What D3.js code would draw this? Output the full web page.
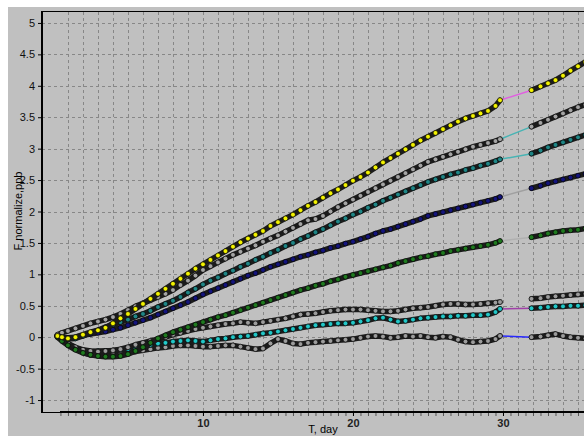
<!DOCTYPE html>
<html>
<head>
<meta charset="utf-8">
<script src="https://cdn.jsdelivr.net/npm/d3@7"></script>
<style>
body { margin: 0; background: #fff; }
svg { display: block; font-family: "Liberation Sans", Arial, sans-serif; }
</style>
</head>
<body>
<div class="chart"></div>
<script>
// === Data ===
const yTicks = [-1, -0.5, 0, 0.5, 1, 1.5, 2, 2.5, 3, 3.5, 4, 4.5, 5];
const xTicks = [10, 20, 30];

// days before the gap / after the gap
const daysA = [0.3,0.6,1,1.5,2,2.5,3,3.5,4,4.5,
  5,5.5,6,6.5,7,7.5,8,8.5,9,9.5,
  10,10.5,11,11.5,12,12.5,13,13.5,14,14.5,
  15,15.5,16,16.5,17,17.5,18,18.5,19,19.5,
  20,20.5,21,21.5,22,22.5,23,23.5,24,24.5,
  25,25.5,26,26.5,27,27.5,28,28.5,29,29.5,29.8];
const daysB = [31.9,32.5,33,33.5,34,34.5,35,35.5];

const yellowA = [0.02,0.00,-0.02,0.00,0.04,0.08,0.11,0.15,0.22,0.30,
  0.37,0.45,0.53,0.61,0.69,0.77,0.85,0.93,1.01,1.09,
  1.16,1.23,1.30,1.37,1.44,1.51,1.57,1.63,1.69,1.77,
  1.83,1.89,1.95,2.02,2.09,2.15,2.22,2.29,2.35,2.42,
  2.49,2.55,2.62,2.70,2.78,2.85,2.92,2.99,3.06,3.13,
  3.19,3.25,3.31,3.37,3.43,3.48,3.52,3.56,3.60,3.68,3.77];
const yellowB = [3.93,3.99,4.04,4.09,4.16,4.24,4.31,4.38];

const gray1A = [0.04,0.07,0.10,0.14,0.18,0.22,0.25,0.28,0.32,0.37,
  0.43,0.49,0.54,0.59,0.64,0.69,0.75,0.83,0.90,0.98,
  1.07,1.13,1.19,1.25,1.31,1.36,1.41,1.46,1.52,1.57,
  1.62,1.68,1.74,1.80,1.86,1.88,1.93,2.00,2.07,2.13,
  2.19,2.25,2.31,2.37,2.43,2.49,2.55,2.61,2.67,2.73,
  2.79,2.83,2.87,2.91,2.95,2.99,3.03,3.06,3.09,3.12,3.15];
const gray1B = [3.35,3.41,3.46,3.51,3.56,3.61,3.66,3.70];

const tealA = [0.03,0.00,-0.03,-0.02,0.02,0.07,0.11,0.16,0.20,0.24,
  0.28,0.33,0.37,0.42,0.48,0.53,0.58,0.64,0.71,0.77,
  0.84,0.90,0.95,1.01,1.06,1.12,1.17,1.23,1.28,1.34,
  1.39,1.45,1.50,1.56,1.61,1.67,1.72,1.78,1.84,1.89,
  1.95,2.00,2.06,2.11,2.17,2.22,2.27,2.32,2.37,2.42,
  2.47,2.51,2.55,2.59,2.62,2.66,2.69,2.73,2.76,2.80,2.83];
const tealB = [2.92,2.97,3.02,3.06,3.10,3.14,3.18,3.22];

const navyA = [0.02,0.00,-0.01,0.00,0.03,0.05,0.07,0.09,0.12,0.15,
  0.19,0.23,0.27,0.31,0.36,0.41,0.46,0.51,0.56,0.62,
  0.68,0.73,0.78,0.83,0.88,0.93,0.98,1.02,1.07,1.12,
  1.16,1.20,1.24,1.28,1.31,1.35,1.38,1.42,1.45,1.49,
  1.52,1.56,1.60,1.65,1.69,1.72,1.76,1.80,1.84,1.88,
  1.93,1.96,1.99,2.02,2.05,2.08,2.11,2.14,2.17,2.20,2.23];
const navyB = [2.37,2.41,2.45,2.48,2.51,2.54,2.57,2.60];

const greenA = [0.00,-0.06,-0.13,-0.20,-0.25,-0.28,-0.30,-0.31,-0.31,-0.30,
  -0.27,-0.22,-0.16,-0.09,-0.02,0.03,0.08,0.12,0.16,0.20,
  0.24,0.28,0.32,0.35,0.39,0.43,0.47,0.51,0.55,0.59,
  0.63,0.67,0.71,0.75,0.78,0.82,0.85,0.89,0.92,0.96,
  0.99,1.02,1.05,1.08,1.11,1.14,1.18,1.21,1.24,1.27,
  1.29,1.32,1.34,1.37,1.39,1.41,1.43,1.45,1.47,1.50,1.53];
const greenB = [1.59,1.62,1.65,1.67,1.69,1.70,1.71,1.73];

const gray2A = [0.01,-0.04,-0.10,-0.16,-0.20,-0.22,-0.23,-0.22,-0.21,-0.19,
  -0.16,-0.12,-0.09,-0.06,-0.03,0.00,0.04,0.07,0.10,0.13,
  0.15,0.17,0.19,0.21,0.22,0.24,0.23,0.22,0.24,0.26,
  0.28,0.30,0.33,0.36,0.37,0.38,0.40,0.42,0.43,0.44,
  0.44,0.44,0.43,0.42,0.41,0.41,0.42,0.44,0.46,0.47,
  0.48,0.50,0.52,0.53,0.53,0.52,0.52,0.53,0.54,0.55,0.56];
const gray2B = [0.61,0.62,0.64,0.65,0.66,0.67,0.68,0.69];

const cyanA = [0.02,-0.05,-0.12,-0.17,-0.21,-0.23,-0.22,-0.22,-0.21,-0.20,
  -0.19,-0.17,-0.15,-0.12,-0.10,-0.09,-0.07,-0.06,-0.05,-0.06,
  -0.07,-0.05,-0.03,-0.02,0.00,0.01,0.02,0.04,0.06,0.07,
  0.09,0.11,0.13,0.15,0.17,0.19,0.20,0.21,0.22,0.22,
  0.23,0.25,0.27,0.30,0.31,0.28,0.25,0.26,0.28,0.30,
  0.31,0.32,0.33,0.33,0.34,0.34,0.35,0.35,0.36,0.40,0.45];
const cyanB = [0.46,0.47,0.48,0.49,0.49,0.50,0.50,0.51];

const gray3A = [0.03,-0.03,-0.10,-0.18,-0.24,-0.28,-0.29,-0.29,-0.28,-0.27,
  -0.25,-0.23,-0.21,-0.19,-0.17,-0.16,-0.14,-0.13,-0.13,-0.14,
  -0.15,-0.15,-0.14,-0.13,-0.13,-0.15,-0.17,-0.19,-0.18,-0.10,
  -0.03,-0.06,-0.10,-0.11,-0.09,-0.08,-0.07,-0.06,-0.05,-0.04,
  -0.03,-0.01,0.01,0.02,0.01,-0.01,0.00,0.02,0.01,0.02,
  0.00,-0.01,0.01,0.00,-0.04,-0.07,-0.08,-0.07,-0.06,-0.03,0.02];
const gray3B = [0.00,0.01,0.03,0.05,0.02,0.00,-0.01,-0.02];

// drawn bottom first, yellow last
const series = [
  {a: gray3A,  b: gray3B,  fill: "#9c9c9c", link: "#2828ff"},
  {a: cyanA,   b: cyanB,   fill: "#22c8c8", link: "#a040a8"},
  {a: gray2A,  b: gray2B,  fill: "#9c9c9c", link: null},
  {a: greenA,  b: greenB,  fill: "#1f7a1f", link: "#b0b0b0"},
  {a: navyA,   b: navyB,   fill: "#14147c", link: "#a0a0a0"},
  {a: tealA,   b: tealB,   fill: "#1f8686", link: "#48b4b4"},
  {a: gray1A,  b: gray1B,  fill: "#a4a4a4", link: "#48b4b4"},
  {a: yellowA, b: yellowB, fill: "#f2f200", link: "#e060e0"}
];

// Chart init
const width = 584, height = 436;
const svg = d3.select(".chart").append("svg")
    .attr("width", width)
    .attr("height", height);

svg.append("rect")
    .attr("x", 8).attr("y", 7)
    .attr("width", width - 8).attr("height", height - 7)
    .attr("fill", "#c0c0c0");

const xScale = d3.scaleLinear().domain([-0.73, 35.4]).range([42, 584]);
const yScale = d3.scaleLinear().domain([-1.19, 5.19]).range([412, 11]);

// === grid ===
const grid = svg.append("g").attr("stroke", "#878787").attr("stroke-dasharray", "3,3");
grid.selectAll(".hg").data(yTicks).join("line")
    .attr("class", "hg")
    .attr("x1", 42).attr("x2", 584)
    .attr("y1", d => Math.round(yScale(d)) + 0.5)
    .attr("y2", d => Math.round(yScale(d)) + 0.5);
grid.selectAll(".vg").data(d3.range(1, 36)).join("line")
    .attr("class", "vg")
    .attr("y1", 12).attr("y2", 411)
    .attr("x1", d => Math.round(xScale(d)) + 0.5)
    .attr("x2", d => Math.round(xScale(d)) + 0.5);

// === axes ===
const yAxis = d3.axisLeft(yScale)
    .tickValues(yTicks)
    .tickSize(3)
    .tickPadding(3)
    .tickFormat(d => String(d));
const gy = svg.append("g")
    .attr("transform", "translate(41,0)")
    .call(yAxis);
gy.select(".domain").remove();
gy.selectAll("text").attr("font-size", "11px").attr("fill", "#111");

const xMinor = d3.axisBottom(xScale)
    .tickValues(d3.range(0.5, 35.5, 0.5))
    .tickSize(3)
    .tickFormat("");
const gxm = svg.append("g")
    .attr("transform", "translate(0,413)")
    .call(xMinor);
gxm.select(".domain").remove();
gxm.selectAll("line").attr("stroke", "#555");

const xAxis = d3.axisBottom(xScale)
    .tickValues(xTicks)
    .tickSize(3)
    .tickPadding(3)
    .tickFormat(d => String(d));
const gx = svg.append("g")
    .attr("transform", "translate(0,413)")
    .call(xAxis);
gx.select(".domain").remove();
gx.selectAll("text").attr("font-size", "11px").attr("font-weight", "bold").attr("fill", "#222");

// frame lines
svg.append("line").attr("x1", 42).attr("x2", 584).attr("y1", 11.5).attr("y2", 11.5)
    .attr("stroke", "#000").attr("stroke-width", 1);
svg.append("line").attr("x1", 42).attr("x2", 42).attr("y1", 11).attr("y2", 413)
    .attr("stroke", "#000").attr("stroke-width", 2);
svg.append("line").attr("x1", 42).attr("x2", 60).attr("y1", 412.5).attr("y2", 412.5)
    .attr("stroke", "#000").attr("stroke-width", 1);
svg.append("line").attr("x1", xScale(0.47)).attr("x2", 584).attr("y1", 412).attr("y2", 412)
    .attr("stroke", "#000").attr("stroke-width", 2);

// axis titles
svg.append("text")
    .attr("x", 323).attr("y", 433)
    .attr("text-anchor", "middle")
    .attr("font-size", "11px")
    .text("T, day");
svg.append("text")
    .attr("transform", "translate(22,211) rotate(-90)")
    .attr("text-anchor", "middle")
    .attr("font-size", "11px")
    .text("F normalize,ppb");

// === series ===
const plot = svg.append("g");
const lineA = d3.line().x((d, i) => xScale(daysA[i])).y(d => yScale(d));
const lineB = d3.line().x((d, i) => xScale(daysB[i])).y(d => yScale(d));

series.forEach(s => {
    const g = plot.append("g");
    if (s.link) {
        g.append("line")
            .attr("x1", xScale(daysA[daysA.length - 1])).attr("y1", yScale(s.a[s.a.length - 1]))
            .attr("x2", xScale(daysB[0])).attr("y2", yScale(s.b[0]))
            .attr("stroke", s.link).attr("stroke-width", 1.5);
    }
    [[s.a, lineA, daysA], [s.b, lineB, daysB]].forEach(([vals, gen, days]) => {
        g.append("path")
            .attr("d", gen(vals))
            .attr("fill", "none")
            .attr("stroke", "#1b1b1b")
            .attr("stroke-width", 5.5)
            .attr("stroke-linejoin", "round")
            .attr("stroke-linecap", "round");
        g.selectAll(null).data(vals).join("circle")
            .attr("cx", (d, i) => xScale(days[i]))
            .attr("cy", d => yScale(d))
            .attr("r", 2.4)
            .attr("fill", s.fill)
            .attr("stroke", "#000")
            .attr("stroke-width", 0.6);
    });
});
</script>
</body>
</html>
